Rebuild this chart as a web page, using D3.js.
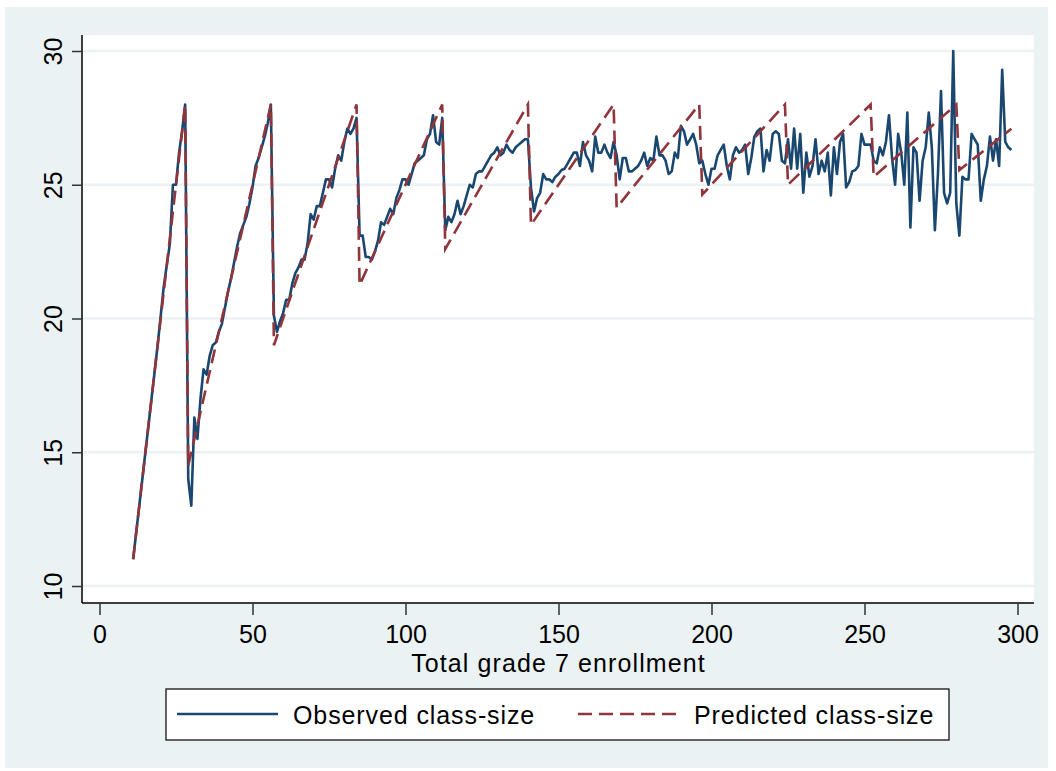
<!DOCTYPE html>
<html>
<head>
<meta charset="utf-8">
<script src="https://cdn.jsdelivr.net/npm/d3@7"></script>
<style>
  body { margin: 0; background: #fff; }
  text { font-family: "Liberation Sans", Arial, sans-serif; }
</style>
</head>
<body>
<div id="chart"></div>
<script>
// observed class size, one value per enrollment from 11 to 298
var enrollStart = 11;
var observed = [
  11, 12, 13, 14, 15, 16, 17, 18, 19, 20.1,          // 11-20
  21.2, 22, 22.8, 25, 25, 26.2, 27, 28, 14, 13,      // 21-30
  16.3, 15.5, 17, 18.1, 17.9, 18.6, 19, 19.1, 19.5, 19.8,
  20.4, 21, 21.5, 22.1, 22.7, 23.2, 23.5, 23.8, 24.3, 24.9,
  25.7, 26, 26.4, 26.8, 27.3, 28, 20.1, 19.5, 19.9, 20.2,  // 51-60
  20.7, 20.7, 21.3, 21.7, 21.9, 22.2, 22.2, 22.8, 23.9, 23.7,
  24.2, 24.2, 24.7, 25.2, 25.2, 24.9, 25.6, 26.1, 25.9, 26.6,
  27.1, 26.9, 27.1, 27.5, 23.1, 23.1, 22.3, 22.3, 22.2, 22.5, // 81-90
  22.9, 23.6, 23.5, 23.8, 24.1, 23.9, 24.5, 24.8, 25.2, 25.2,
  25, 25.4, 25.8, 25.9, 26, 26.1, 26.7, 26.9, 27.6, 26.6,
  26.5, 27.5, 23.3, 23.8, 23.6, 23.9, 24.4, 23.9, 24.2, 24.6, // 111-120
  25, 24.9, 25.4, 25.5, 25.5, 25.7, 25.9, 26.1, 26.2, 26.4,
  26.1, 26.2, 26.5, 26.3, 26.2, 26.4, 26.5, 26.6, 26.7, 26.7,
  24.9, 24, 24.5, 24.7, 25.4, 25.2, 25.2, 25.1, 25.3, 25.4,   // 141-150
  25.55, 25.6, 25.8, 26, 26.2, 26.2, 25.7, 26.6, 26.1, 25.9,
  25.5, 26.8, 26.2, 26.2, 26.5, 26.2, 26, 26.6, 26.1, 25.2,
  26, 26, 25.5, 25.5, 25.6, 25.7, 25.9, 26.2, 25.7, 26,       // 171-180
  25.9, 26.8, 26.1, 26.1, 25.9, 25.4, 25.5, 26.2, 26, 27.2,
  27, 26.5, 26.7, 26.9, 26.5, 25.8, 25.9, 25.4, 25, 25.6,
  25.6, 26.1, 26.3, 26.5, 25.7, 25.2, 26.1, 26.4, 26.2, 26.3, // 201-210
  26.5, 25.4, 26, 26.8, 27, 27.1, 25.5, 26.3, 25.9, 26.9,
  27, 26.9, 25.9, 25.8, 26.7, 25.6, 27.1, 25.6, 26.9, 24.7,
  26.2, 25.3, 25.7, 26.7, 25.4, 25.9, 25.5, 26.2, 24.6, 26.4, // 231-240
  25.4, 26.6, 26.9, 24.9, 25.1, 25.5, 25.55, 25.7, 26.9, 26.5,
  26.5, 26.5, 25.9, 25.8, 26.4, 26.1, 26.6, 27.6, 26, 25,
  26.9, 26.2, 25, 27.7, 23.4, 26.4, 26.2, 24.4, 25.9, 26.4,   // 261-270
  27.7, 26.4, 23.3, 25.4, 28.5, 24.7, 24.3, 24.7, 30, 24.3,
  23.1, 25.3, 25.2, 25.2, 26.9, 26.7, 26.5, 24.4, 25.2, 25.7,
  26.8, 25.9, 26.7, 25.7, 29.3, 26.6, 26.4, 26.3              // 291-298
];

// predicted class size, corners of the dashed line
var predEnroll = [11, 28, 29, 56, 57, 84, 85, 112, 113, 140, 141, 168, 169, 196, 197, 224, 225, 252, 253, 280, 281, 298];
var predValue  = [11, 28, 14.5, 28, 19, 28, 21.25, 28, 22.6, 28, 23.5, 28, 24.14, 28, 24.63, 28, 25, 28, 25.3, 28, 25.55, 27.09];

var xTicks = [0, 50, 100, 150, 200, 250, 300];
var yTicks = [10, 15, 20, 25, 30];
var xTitle = "Total grade 7 enrollment";
var legendLabels = ["Observed class-size", "Predicted class-size"];

var W = 1056, H = 771;
var obsColor = "#1a476f", predColor = "#90353b", bgColor = "#eaf2f3";
var plotL = 82, plotR = 1034, plotT = 35, plotB = 603;

var svg = d3.select("#chart").append("svg")
    .attr("width", W)
    .attr("height", H);

// outer background
svg.append("rect")
    .attr("x", 5).attr("y", 7)
    .attr("width", 1043).attr("height", 761)
    .attr("fill", bgColor);

// plot region
svg.append("rect")
    .attr("x", plotL).attr("y", plotT)
    .attr("width", plotR - plotL).attr("height", plotB - plotT)
    .attr("fill", "#fff");

var x = d3.scaleLinear().domain([0, 300]).range([99.5, 1017.5]);
var y = d3.scaleLinear().domain([10, 30]).range([586, 51]);

// gridlines
svg.selectAll(".grid")
    .data(yTicks)
    .enter()
    .append("line")
    .attr("x1", plotL).attr("x2", plotR)
    .attr("y1", function(d) { return y(d); })
    .attr("y2", function(d) { return y(d); })
    .attr("stroke", bgColor)
    .attr("stroke-width", 2.5);

// y axis
var yAxis = svg.append("g")
    .attr("transform", "translate(" + plotL + ",0)")
    .call(d3.axisLeft(y).tickValues(yTicks).tickSize(10).tickFormat(d3.format("d")));
yAxis.select(".domain").attr("d", "M0," + plotT + "V" + plotB).attr("stroke-width", 1.5);
yAxis.selectAll(".tick line").attr("stroke", "#333").attr("stroke-width", 1.5);
yAxis.selectAll(".tick text")
    .attr("x", 0).attr("y", 0).attr("dy", 0)
    .attr("transform", "translate(-20,0) rotate(-90)")
    .attr("text-anchor", "middle")
    .attr("font-size", 25)
    .attr("fill", "#000");

// x axis
var xAxis = svg.append("g")
    .attr("transform", "translate(0," + plotB + ")")
    .call(d3.axisBottom(x).tickValues(xTicks).tickSize(12).tickFormat(d3.format("d")));
xAxis.select(".domain").attr("d", "M" + plotL + ",0H" + plotR).attr("stroke-width", 1.5);
xAxis.selectAll(".tick line").attr("stroke", "#333").attr("stroke-width", 1.5);
xAxis.selectAll(".tick text")
    .attr("y", 40).attr("dy", 0)
    .attr("font-size", 25)
    .attr("fill", "#000");

svg.append("text")
    .attr("x", (x(0) + x(300)) / 2)
    .attr("y", 672)
    .attr("text-anchor", "middle")
    .attr("font-size", 25)
    .attr("letter-spacing", 1.1)
    .text(xTitle);

// series
var obsData = observed.map(function(v, i) { return [enrollStart + i, v]; });
var predData = predEnroll.map(function(e, i) { return [e, predValue[i]]; });

var line = d3.line()
    .x(function(d) { return x(d[0]); })
    .y(function(d) { return y(d[1]); });

svg.append("path")
    .datum(obsData)
    .attr("d", line)
    .attr("fill", "none")
    .attr("stroke", obsColor)
    .attr("stroke-width", 2.6)
    .attr("stroke-linejoin", "round");

svg.append("path")
    .datum(predData)
    .attr("d", line)
    .attr("fill", "none")
    .attr("stroke", predColor)
    .attr("stroke-width", 2.6)
    .attr("stroke-dasharray", "14,7");

// legend
var leg = svg.append("g");
leg.append("rect")
    .attr("x", 166).attr("y", 689)
    .attr("width", 783).attr("height", 51)
    .attr("fill", "#fff")
    .attr("stroke", "#000")
    .attr("stroke-width", 1.2);

var legItems = [
    { x1: 177, x2: 278, tx: 293, color: obsColor, dash: null },
    { x1: 578, x2: 677, tx: 694, color: predColor, dash: "14,7" }
];
legItems.forEach(function(d, i) {
    leg.append("line")
        .attr("x1", d.x1).attr("x2", d.x2)
        .attr("y1", 714).attr("y2", 714)
        .attr("stroke", d.color)
        .attr("stroke-width", 2.6)
        .attr("stroke-dasharray", d.dash);
    leg.append("text")
        .attr("x", d.tx).attr("y", 724)
        .attr("font-size", 25)
        .attr("letter-spacing", 0.9)
        .text(legendLabels[i]);
});
</script>
</body>
</html>
